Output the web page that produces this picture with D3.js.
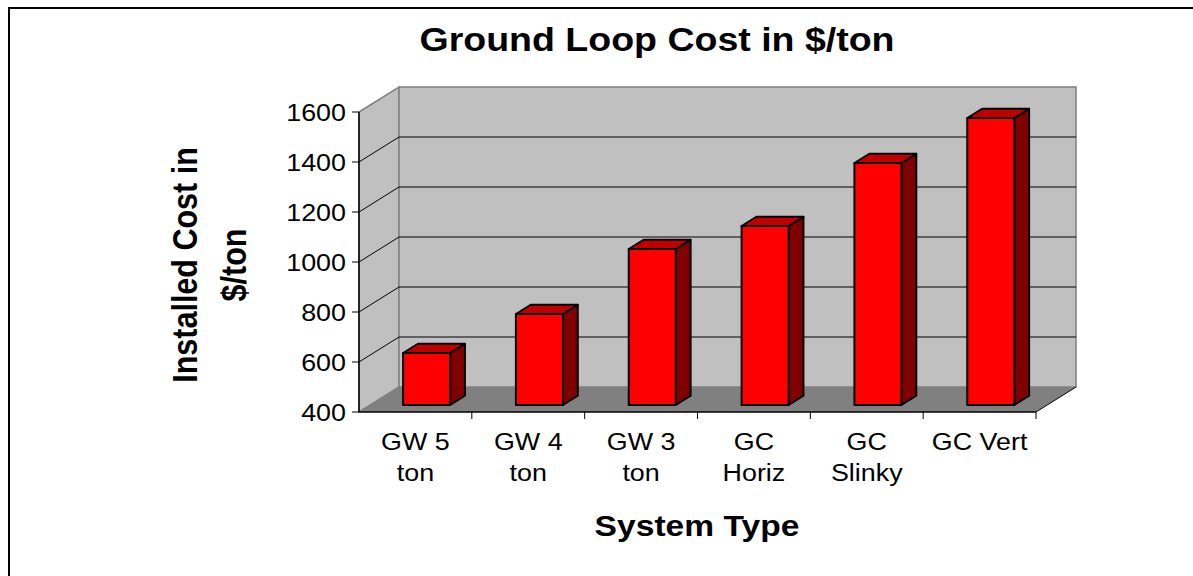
<!DOCTYPE html>
<html>
<head>
<meta charset="utf-8">
<script src="https://cdn.jsdelivr.net/npm/d3@7"></script>
<style>
  body { margin: 0; background: #fff; }
  text { font-family: "Liberation Sans", Arial, sans-serif; fill: #000; }
</style>
</head>
<body>
<div id="vis"></div>
<script>
const FRAME_WIDTH = 1193;
const FRAME_HEIGHT = 576;

// data
const categories = ["GW 5\nton", "GW 4\nton", "GW 3\nton", "GC\nHoriz", "GC\nSlinky", "GC Vert"];
const costs = [608, 764, 1024, 1116, 1368, 1548];
const yTicks = [400, 600, 800, 1000, 1200, 1400, 1600];

// plot frame (front plane) and depth vector of the 3d box
const PLOT = {left: 359, right: 1036, top: 112, bottom: 412};
const DEPTH = {x: 40, y: -25};
const BAR_FRONT = 0.28;   // fraction of depth where bar front sits
const BAR_DEPTH = 0.37;   // fraction of depth the bar takes
const STRETCH = 1.12;     // text in the picture is a bit wide

const svg = d3.select("#vis")
  .append("svg")
    .attr("width", FRAME_WIDTH)
    .attr("height", FRAME_HEIGHT);

// outer chart border, runs off the right and bottom
svg.append("rect")
  .attr("x", 9).attr("y", 8)
  .attr("width", 1400).attr("height", 800)
  .attr("fill", "none")
  .attr("stroke", "#000")
  .attr("stroke-width", 2);

const X_SCALE = d3.scaleBand()
  .domain(categories)
  .range([PLOT.left, PLOT.right]);

const Y_SCALE = d3.scaleLinear()
  .domain([400, 1600])
  .range([PLOT.bottom, PLOT.top]);

const pt = (x, y, f) => [x + DEPTH.x * f, y + DEPTH.y * f];
const poly = (pts) => pts.map(p => p.join(",")).join(" ");

const y0 = Y_SCALE(400), y1 = Y_SCALE(1600);

// side wall
svg.append("polygon")
  .attr("points", poly([[PLOT.left, y1], pt(PLOT.left, y1, 1), pt(PLOT.left, y0, 1), [PLOT.left, y0]]))
  .attr("fill", "#c0c0c0")
  .attr("stroke", "#808080")
  .attr("stroke-width", 1.5);

// back wall
svg.append("polygon")
  .attr("points", poly([pt(PLOT.left, y1, 1), pt(PLOT.right, y1, 1), pt(PLOT.right, y0, 1), pt(PLOT.left, y0, 1)]))
  .attr("fill", "#c0c0c0")
  .attr("stroke", "#808080")
  .attr("stroke-width", 1.5);

// floor
svg.append("polygon")
  .attr("points", poly([[PLOT.left, y0], [PLOT.right, y0], pt(PLOT.right, y0, 1), pt(PLOT.left, y0, 1)]))
  .attr("fill", "#808080");

svg.append("line")
  .attr("x1", PLOT.right).attr("y1", y0)
  .attr("x2", PLOT.right + DEPTH.x).attr("y2", y0 + DEPTH.y)
  .attr("stroke", "#000");

// gridlines: diagonal on side wall, flat on back wall
const grid = svg.append("g");
yTicks.filter(v => v > 400 && v < 1600).forEach(v => {
  const y = Y_SCALE(v);
  const b = pt(PLOT.left, y, 1);
  grid.append("line")
    .attr("x1", PLOT.left).attr("y1", y)
    .attr("x2", b[0]).attr("y2", b[1])
    .attr("stroke", "#000");
  grid.append("line")
    .attr("x1", b[0]).attr("y1", b[1])
    .attr("x2", PLOT.right + DEPTH.x).attr("y2", b[1])
    .attr("stroke", "#000");
});

// bars
const bw = X_SCALE.bandwidth() * 0.417;
const bars = svg.selectAll(".bar")
  .data(costs.map((v, i) => ({cat: categories[i], v: v})))
  .enter()
  .append("g")
    .attr("class", "bar");

bars.each(function (d) {
  const g = d3.select(this);
  const xc = X_SCALE(d.cat) + X_SCALE.bandwidth() / 2;
  const fx = xc - bw / 2 + DEPTH.x * BAR_FRONT;
  const fy = Y_SCALE(d.v) + DEPTH.y * BAR_FRONT;
  const fb = Y_SCALE(400) + DEPTH.y * BAR_FRONT;
  const dx = DEPTH.x * BAR_DEPTH, dy = DEPTH.y * BAR_DEPTH;
  const style = (s, c) => s.attr("fill", c).attr("stroke", "#000").attr("stroke-width", 2).attr("stroke-linejoin", "round");
  style(g.append("polygon")
    .attr("points", poly([[fx + bw, fy], [fx + bw + dx, fy + dy], [fx + bw + dx, fb + dy], [fx + bw, fb]])), "#800000");
  style(g.append("polygon")
    .attr("points", poly([[fx, fy], [fx + dx, fy + dy], [fx + bw + dx, fy + dy], [fx + bw, fy]])), "#c00000");
  style(g.append("rect")
    .attr("x", fx).attr("y", fy)
    .attr("width", bw).attr("height", fb - fy), "#ff0000");
});

// value axis
const yAxis = svg.append("g");
yAxis.append("line")
  .attr("x1", PLOT.left).attr("y1", y1)
  .attr("x2", PLOT.left).attr("y2", y0)
  .attr("stroke", "#000").attr("stroke-width", 1.5);
yTicks.forEach(v => {
  yAxis.append("line")
    .attr("x1", PLOT.left - 7).attr("x2", PLOT.left)
    .attr("y1", Y_SCALE(v)).attr("y2", Y_SCALE(v))
    .attr("stroke", "#000");
  yAxis.append("text")
    .attr("transform", `translate(${PLOT.left - 13},${Y_SCALE(v) + 8.5}) scale(${STRETCH},1)`)
    .attr("text-anchor", "end")
    .attr("font-size", 24)
    .text(v);
});

// category axis
const xAxis = svg.append("g");
xAxis.append("line")
  .attr("x1", PLOT.left).attr("y1", y0)
  .attr("x2", PLOT.right).attr("y2", y0)
  .attr("stroke", "#000").attr("stroke-width", 1.5);
categories.forEach((c, i) => {
  const xl = X_SCALE(c) + X_SCALE.bandwidth();
  xAxis.append("line")
    .attr("x1", xl).attr("x2", xl)
    .attr("y1", y0).attr("y2", y0 + 7)
    .attr("stroke", "#000");
  const t = xAxis.append("text")
    .attr("transform", `translate(${X_SCALE(c) + X_SCALE.bandwidth() / 2},450) scale(${STRETCH},1)`)
    .attr("text-anchor", "middle")
    .attr("font-size", 24);
  c.split("\n").forEach((line, k) => {
    t.append("tspan").attr("x", 0).attr("y", k * 31).text(line);
  });
});

// titles
svg.append("text")
  .attr("transform", `translate(657,51) scale(${STRETCH},1)`)
  .attr("text-anchor", "middle")
  .attr("font-size", 33.5)
  .attr("font-weight", "bold")
  .text("Ground Loop Cost in $/ton");

svg.append("text")
  .attr("transform", `translate(697,536) scale(${STRETCH},1)`)
  .attr("text-anchor", "middle")
  .attr("font-size", 30)
  .attr("font-weight", "bold")
  .text("System Type");

const yTitle = svg.append("text")
  .attr("transform", `translate(197,265) scale(${STRETCH},1) rotate(-90)`)
  .attr("text-anchor", "middle")
  .attr("font-size", 30.5)
  .attr("font-weight", "bold");
yTitle.append("tspan").attr("x", 0).attr("y", 0).text("Installed Cost in");
yTitle.append("tspan").attr("x", 0).attr("y", 44).text("$/ton");
</script>
</body>
</html>
